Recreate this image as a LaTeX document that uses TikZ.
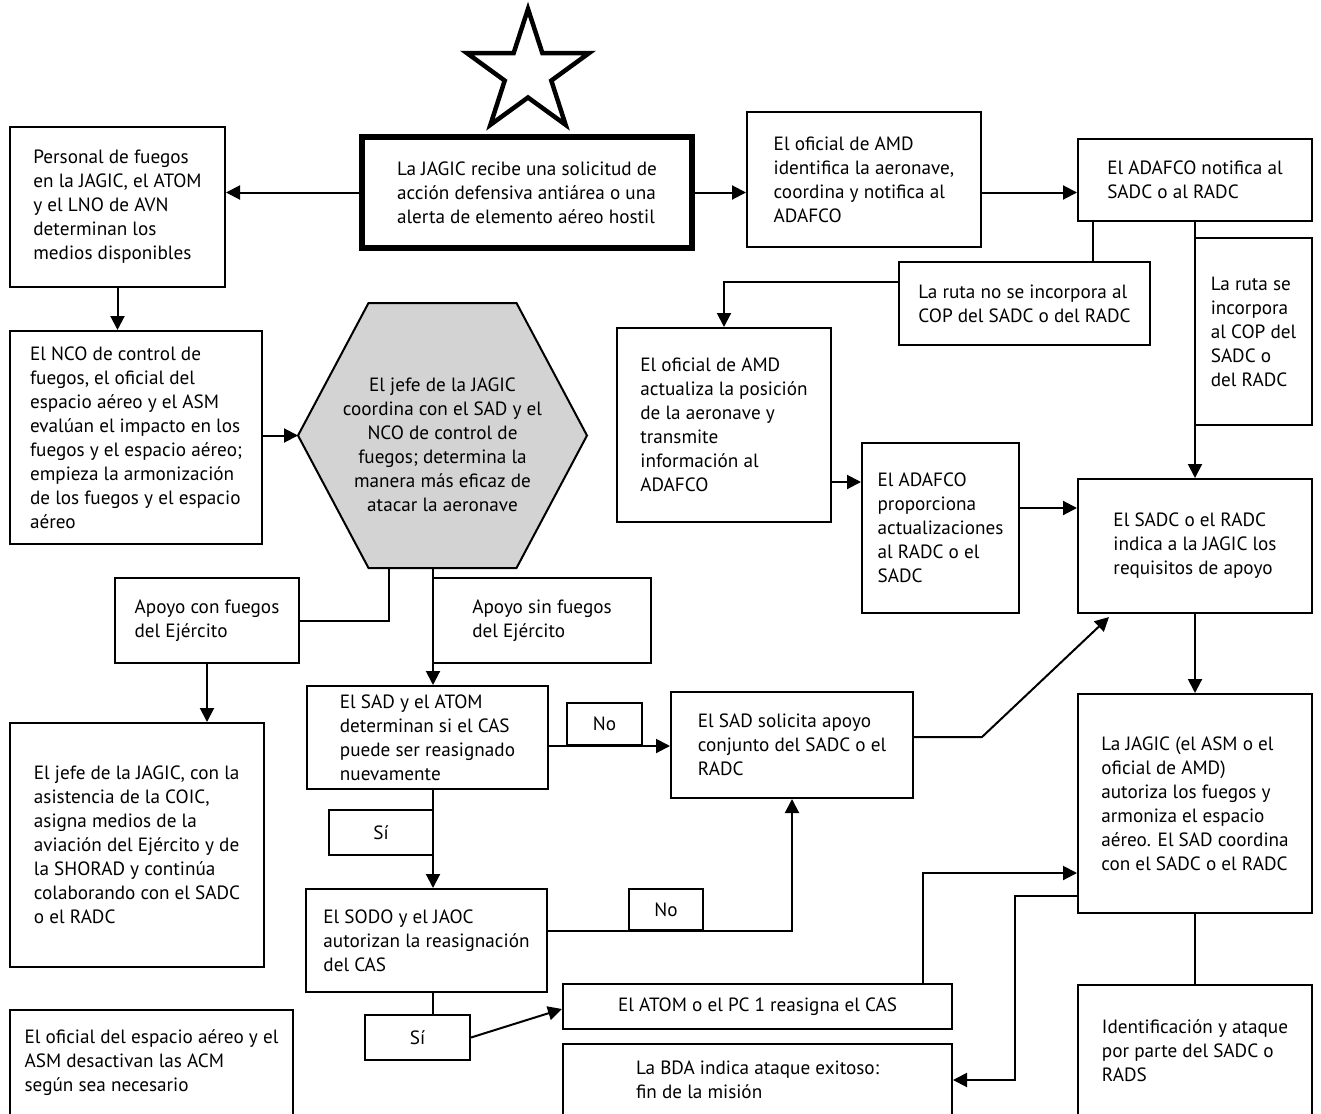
\documentclass[tikz,border=0pt]{standalone}
\usepackage{fontspec}
\setmainfont{PT Sans}
\usetikzlibrary{arrows.meta,calc}
\definecolor{hexgray}{RGB}{211,211,211}
\begin{document}
\begin{tikzpicture}[x=1pt,y=-1pt,
  every node/.style={font=\fontsize{19.2}{24}\selectfont},
  box/.style 2 args={draw, line width=2pt, minimum width=#1pt, minimum height=#2pt, inner sep=0pt, align=left},
  lab/.style 2 args={draw, line width=2pt, minimum width=#1pt, minimum height=#2pt, inner sep=0pt, align=center},
  conn/.style={line width=2pt},
  arr/.style={line width=2pt, -{Triangle[length=14pt,width=14pt]}}]
\useasboundingbox (0,0) rectangle (1321,1113);
\fill[white] (0,0) rectangle (1321,1113);

% star
\draw[line width=4.5pt, miter limit=10] (528,9) -- (542.4,53.2) -- (588.9,53.2) -- (551.3,80.6) -- (565.6,124.8) -- (528,97.5) -- (490.4,124.8) -- (504.7,80.6) -- (467.1,53.2) -- (513.6,53.2) -- cycle;

% hexagon
\draw[line width=2pt, fill=hexgray] (368.5,303) -- (516.5,303) -- (587,435.5) -- (516.5,568) -- (368.5,568) -- (298,435.5) -- cycle;
\coordinate (hexL) at (298,435.5);
\coordinate (hb1) at (389,568);
\coordinate (hb2) at (433,568);
\node[align=center, inner sep=0pt] (hex) at (442.5,445) {El jefe de la JAGIC\\coordina con el SAD y el\\NCO de control de\\fuegos; determina la\\manera más eficaz de\\atacar la aeronave};

% boxes
\node[box={215}{160}] (A) at (117.5,207) {Personal de fuegos\\en la JAGIC, el ATOM\\y el LNO de AVN\\determinan los\\medios disponibles};
\node[box={330}{111}, line width=5.5pt] (M) at (527,192.5) {La JAGIC recibe una solicitud de\\acción defensiva antiárea o una\\alerta de elemento aéreo hostil};
\node[box={234}{135}] (B) at (864,179.5) {El oficial de AMD\\identifica la aeronave,\\coordina y notifica al\\ADAFCO};
\node[box={234}{82}] (C) at (1195,180) {El ADAFCO notifica al\\SADC o al RADC};
\node[box={251}{83}] (D) at (1024.5,303.5) {La ruta no se incorpora al\\COP del SADC o del RADC};
\node[box={117}{187}] (E) at (1253.5,331.5) {La ruta se\\incorpora\\al COP del\\SADC o\\del RADC};
\node[box={214}{194}] (F) at (724,425) {El oficial de AMD\\actualiza la posición\\de la aeronave y\\transmite\\información al\\ADAFCO};
\node[box={157}{170}] (G) at (940.5,528) {El ADAFCO\\proporciona\\actualizaciones\\al RADC o el\\SADC};
\node[box={234}{134}] (H) at (1195,546) {El SADC o el RADC\\indica a la JAGIC los\\requisitos de apoyo};
\node[box={252}{213}] (I) at (136,437.5) {El NCO de control de\\fuegos, el oficial del\\espacio aéreo y el ASM\\evalúan el impacto en los\\fuegos y el espacio aéreo;\\empieza la armonización\\de los fuegos y el espacio\\aéreo};
\node[box={184}{85}] (J) at (207,620.5) {Apoyo con fuegos\\del Ejército};
\node[box={218}{85}] (K) at (542,620.5) {Apoyo sin fuegos\\del Ejército};
\node[box={254}{244}] (L) at (137,845) {El jefe de la JAGIC, con la\\asistencia de la COIC,\\asigna medios de la\\aviación del Ejército y de\\la SHORAD y continúa\\colaborando con el SADC\\o el RADC};
\node[box={241}{103}] (N) at (427.5,737.5) {El SAD y el ATOM\\determinan si el CAS\\puede ser reasignado\\nuevamente};
\node[lab={75}{42}] (No1) at (604.5,724) {No};
\node[box={242}{106}] (P) at (792,745) {El SAD solicita apoyo\\conjunto del SADC o el\\RADC};
\node[lab={104}{45}] (Si1) at (381,832.5) {Sí};
\node[box={241}{103}] (Q) at (426.5,940.5) {El SODO y el JAOC\\autorizan la reasignación\\del CAS};
\node[lab={74}{41}] (No2) at (666,909.5) {No};
\node[lab={105}{45}] (Si2) at (417.5,1037.5) {Sí};
\node[lab={389}{45}] (R) at (757.5,1006.5) {El ATOM o el PC 1 reasigna el CAS};
\node[box={389}{72}] (S) at (757.5,1080) {La BDA indica ataque exitoso:\\fin de la misión};
\node[box={234}{219}] (T) at (1195,803.5) {La JAGIC (el ASM o el\\oficial de AMD)\\autoriza los fuegos y\\armoniza el espacio\\aéreo. El SAD coordina\\con el SADC o el RADC};
\node[box={234}{131}] (U) at (1195,1050.5) {Identificación y ataque\\por parte del SADC o\\RADS};
\node[box={283}{106}] (V) at (151.5,1063) {El oficial del espacio aéreo y el\\ASM desactivan las ACM\\según sea necesario};

% connectors
\draw[arr] (M.west) -- (M.west -| A.east);
\draw[arr] (M.east) -- (M.east -| B.west);
\draw[arr] (B.east |- M.east) -- (M.east -| C.west);
\draw[arr] (A.south) -- (A.south |- I.north);
\draw[arr] (I.east |- hexL) -- (hexL);
\draw[conn] (hb1) |- (J.east);
\draw[arr] (hb2) -- (hb2 |- N.north);
\draw[arr] (J.south) -- (J.south |- L.north);
\coordinate (c1) at ($(C.south west)+(16,0)$);
\draw[conn] (c1) -- (c1 |- D.north);
\coordinate (d1) at ($(D.north west)+(0,21)$);
\draw[arr] (d1) -| (F.north);
\draw[arr] (C.south) -- (H.north);
\coordinate (g1) at ($(G.north west)+(0,40)$);
\draw[arr] (g1 -| F.east) -- (g1);
\coordinate (h1) at ($(H.north west)+(0,30)$);
\draw[arr] (h1 -| G.east) -- (h1);
\coordinate (p1) at ($(P.north east)+(0,46)$);
\draw[arr] (p1) -- ++(68,0) -- ($(H.south west)+(32,3)$);
\draw[arr] (H.south) -- (T.north);
\draw[arr] (N.east |- No1.south) -- (P.west |- No1.south);
\draw[arr] (hb2 |- N.south) -- (hb2 |- Q.north);
\draw[arr] (Q.east |- No2.south) -| (P.south);
\draw[conn] (hb2 |- Q.south) -- (hb2 |- Si2.north);
\draw[arr] (Si2.east) -- ($(R.north west)+(0,26)$);
\coordinate (r1) at ($(R.north east)+(-30,0)$);
\coordinate (t1) at ($(T.north west)+(0,180)$);
\draw[arr] (r1) |- (t1);
\coordinate (t2) at ($(T.north west)+(0,203)$);
\draw[arr] (t2) -- ++(-62,0) |- (S.east);
\draw[conn] (T.south) -- (U.north);
\end{tikzpicture}
\end{document}
